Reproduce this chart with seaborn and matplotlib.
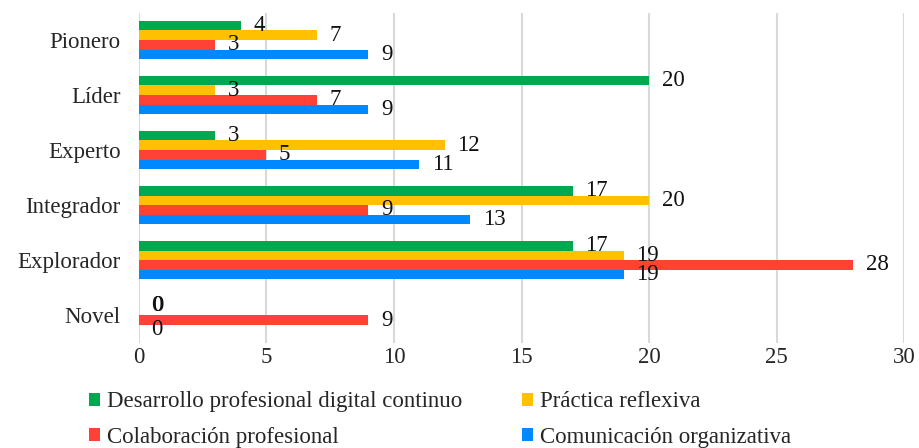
import matplotlib
matplotlib.use("Agg")
import matplotlib.pyplot as plt
import seaborn as sns
import pandas as pd
from matplotlib.patches import Patch

categories = ["Pionero", "Líder", "Experto", "Integrador", "Explorador", "Novel"]
series_names = [
    "Desarrollo profesional digital continuo",
    "Práctica reflexiva",
    "Colaboración profesional",
    "Comunicación organizativa",
]
desarrollo = [4, 20, 3, 17, 17, 0]
practica = [7, 3, 12, 20, 19, 0]
colaboracion = [3, 7, 5, 9, 28, 9]
comunicacion = [9, 9, 11, 13, 19, 0]
x_ticks = [0, 5, 10, 15, 20, 25, 30]

colors = ["#00A94F", "#FFC000", "#FF4136", "#0088FF"]
FS = 16.5

rows = []
for name, vals in zip(series_names, [desarrollo, practica, colaboracion, comunicacion]):
    for cat, v in zip(categories, vals):
        rows.append({"Nivel": cat, "Valor": v, "Área": name})
df = pd.DataFrame(rows)

sns.set_theme(style="white")
plt.rcParams["font.family"] = ["Liberation Serif", "DejaVu Serif"]

fig = plt.figure(figsize=(9.19, 4.48), dpi=100)
ax = fig.add_axes([0.151, 0.235, 0.833, 0.737])

sns.barplot(data=df, y="Nivel", x="Valor", hue="Área", order=categories,
            hue_order=series_names, palette=colors, orient="h",
            width=0.70, saturation=1, legend=False, linewidth=0, ax=ax)

# value labels; the two empty Novel bars at the top share one spot
for ci, container in enumerate(ax.containers):
    labels = [f"{bar.get_width():g}" for bar in container]
    texts = ax.bar_label(container, labels=labels, padding=9,
                         fontsize=FS, color="#111111")
    if ci < 2:
        zero_rows = [i for i, b in enumerate(container) if b.get_width() == 0]
        for i in zero_rows:
            b0 = ax.containers[0][i]
            b1 = ax.containers[1][i]
            ymid = (b0.get_y() + b0.get_height() + b1.get_y()) / 2
            texts[i].xy = (0, ymid)
            texts[i].set_position((9 + ci * 0.6, 0))

ax.set_xlim(0, 30)
ax.set_xticks(x_ticks)
ax.set_xticklabels([str(t) for t in x_ticks], fontsize=FS)
ax.tick_params(axis="y", labelsize=FS, length=0, pad=13)
ax.tick_params(axis="x", length=0, pad=3)
ax.set_xlabel("")
ax.set_ylabel("")
for s in ax.spines.values():
    s.set_visible(False)
ax.xaxis.grid(True, color="#D9D9D9", linewidth=1.5)
ax.set_axisbelow(True)

# legend filled row by row
handles = [Patch(facecolor=c, linewidth=0) for c in colors]
order = [0, 2, 1, 3]
fig.legend([handles[i] for i in order], [series_names[i] for i in order],
           ncol=2, loc="lower left", bbox_to_anchor=(0.074, -0.045),
           frameon=False, fontsize=FS, handlelength=0.5, handleheight=0.5,
           handletextpad=0.3, columnspacing=2.6, labelspacing=0.62)

fig.savefig("out.png", dpi=100)
